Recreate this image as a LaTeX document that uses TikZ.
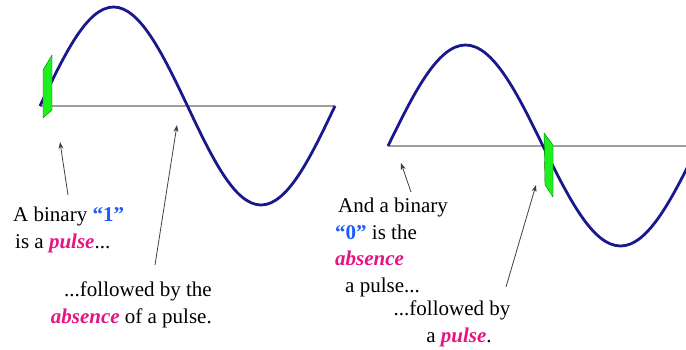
\documentclass[tikz,border=0pt]{standalone}
\usepackage{fontspec}
\setmainfont{Liberation Serif}
\usepackage{xcolor}
\usetikzlibrary{arrows.meta}

\definecolor{wave}{RGB}{25,25,140}
\definecolor{bitblue}{RGB}{30,90,255}
\definecolor{pulsepink}{RGB}{230,20,130}
\definecolor{pulsegreen}{RGB}{30,240,30}
\newcommand{\bitval}[1]{\textcolor{bitblue}{\textbf{“#1”}}}
\newcommand{\pinkword}[1]{\textcolor{pulsepink}{\textbf{\textit{#1}}}}

\tikzset{
  axisline/.style={line width=1.5pt,gray!75},
  carrier/.style={line width=2.8pt,wave},
  pulsebox/.style={fill=pulsegreen,draw=green!45!black,line width=0.4pt},
  pointer/.style={-{Stealth[length=7pt,width=5pt]},line width=0.8pt,black!75},
  caption/.style={inner sep=0pt,font=\fontsize{21}{26.5}\selectfont}
}

\begin{document}
\begin{tikzpicture}[x=1pt,y=-1pt]
\useasboundingbox (0,0) rectangle (686,350);
% first wave: a pulse, then none
\draw[axisline] (40,106) -- (335,106);
\draw[carrier] (40,106) sin (113.5,7) cos (187.5,106) sin (261,205) cos (335,106);
\filldraw[pulsebox] (43,70) -- (52,55) -- (52,110) -- (43,118) -- cycle;
% second wave: none, then a pulse
\begin{scope}
\clip (0,0) rectangle (686,350);
\draw[axisline] (388,146) -- (686,146);
\draw[carrier] (388,146) sin (465.5,45) cos (543,146) sin (620.5,246) cos (698,146);
\end{scope}
\filldraw[pulsebox] (544,133) -- (553,145) -- (553,197) -- (545,185) -- cycle;

% base anchor sits on the last line
\node[caption,align=left,anchor=base west] (onetext) at (13,248)
  {A binary \bitval{1}\\\hspace{2pt}is a \pinkword{pulse}...};
\node[caption,align=right,anchor=base east] (gaptext) at (212,323)
  {...followed by the\\\pinkword{absence} of a pulse.};
\node[caption,align=left,anchor=base west] (zerotext) at (335,292)
  {\hspace{3pt}And a binary\\\bitval{0} is the\\\pinkword{absence}\\\hspace{10pt}a pulse...};
\node[caption,align=center,anchor=base] (pulsetext) at (452,342)
  {...followed by\\\hspace{14pt}a \pinkword{pulse}.};

\coordinate (onetail) at (68,195);
\coordinate (onetip) at (60,142);
\coordinate (gaptail) at (155,265);
\coordinate (gaptip) at (177,125);
\coordinate (zerotail) at (411,192);
\coordinate (zerotip) at (401,163);
\coordinate (pulsetail) at (506,287);
\coordinate (pulsetip) at (536,185);
\draw[pointer] (onetail) -- (onetip);
\draw[pointer] (gaptail) -- (gaptip);
\draw[pointer] (zerotail) -- (zerotip);
\draw[pointer] (pulsetail) -- (pulsetip);
\end{tikzpicture}
\end{document}
